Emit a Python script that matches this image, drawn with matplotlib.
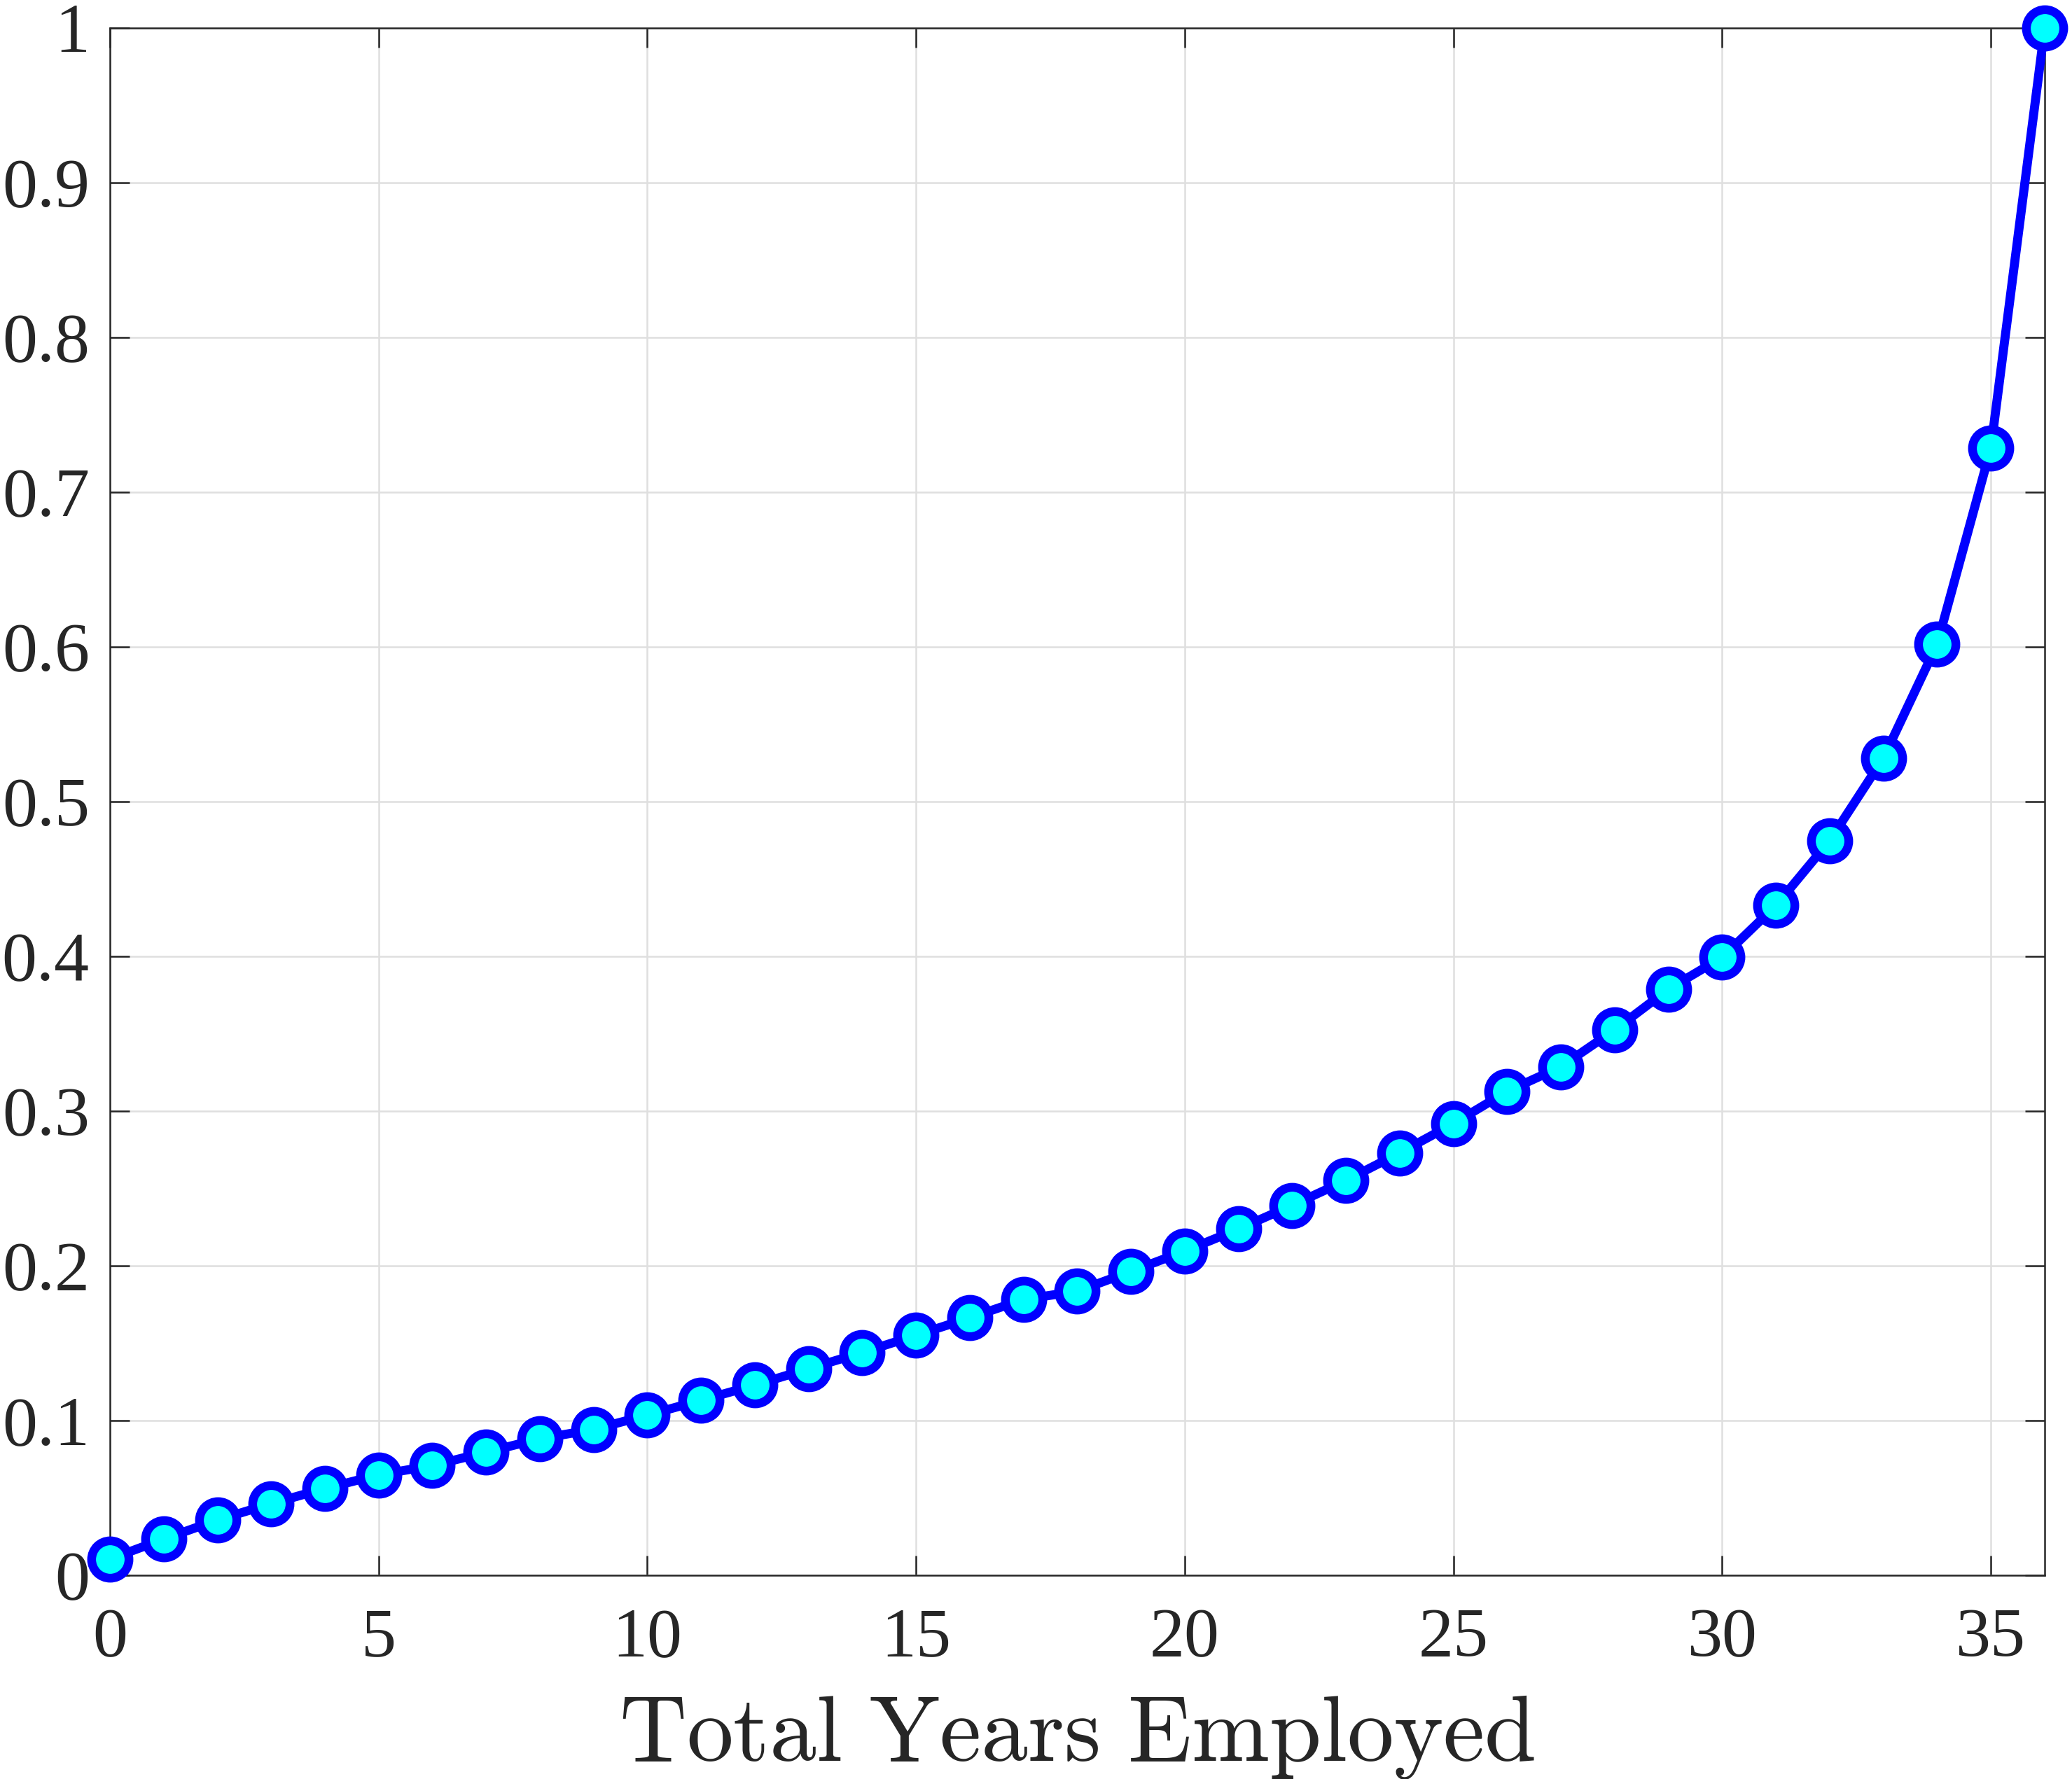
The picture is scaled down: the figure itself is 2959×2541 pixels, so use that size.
import matplotlib.pyplot as plt
import numpy as np

plt.rcParams['font.family'] = ['Liberation Serif', 'DejaVu Serif']
plt.rcParams['mathtext.fontset'] = 'cm'

# data
years = np.arange(0, 37)
values = [0.0105, 0.0234, 0.0357, 0.0463, 0.0561, 0.0649, 0.0709, 0.0796,
          0.0882, 0.0943, 0.1035, 0.1131, 0.1229, 0.1335, 0.1440, 0.1551,
          0.1664, 0.1783, 0.1836, 0.1964, 0.2095, 0.2238, 0.2391, 0.2552,
          0.2730, 0.2919, 0.3128, 0.3287, 0.3525, 0.3788, 0.3994, 0.4329,
          0.4748, 0.5282, 0.6018, 0.7287, 1.0]
xticks = [0, 5, 10, 15, 20, 25, 30, 35]
yticks = [0, 0.1, 0.2, 0.3, 0.4, 0.5, 0.6, 0.7, 0.8, 0.9, 1]
ytick_labels = ['0', '0.1', '0.2', '0.3', '0.4', '0.5', '0.6', '0.7', '0.8', '0.9', '1']

dark = '#262626'

fig = plt.figure(figsize=(2959 / 300, 2541 / 300), dpi=300)
ax = fig.add_axes([157 / 2959, 1 - 2250 / 2541, (2920 - 157) / 2959, (2250 - 40) / 2541])

ax.plot(years, values, '-o', color='#0000ff', lw=3.1, ms=12.8, mew=3.0,
        mfc='#00ffff', mec='#0000ff', clip_on=False, zorder=3)

ax.set_xlim(0, 36)
ax.set_ylim(0, 1)
ax.set_xticks(xticks)
ax.set_yticks(yticks)
ax.set_yticklabels(ytick_labels)
ax.grid(True, color='#dfdfdf', lw=0.6)
ax.set_axisbelow(True)

for s in ax.spines.values():
    s.set_color(dark)
    s.set_linewidth(0.6)
ax.tick_params(direction='in', top=True, right=True, length=6.8, width=0.6,
               color=dark, labelcolor=dark, labelsize=24)
ax.tick_params(axis='x', pad=11)
ax.tick_params(axis='y', pad=7)

# label is LaTeX-rendered in the original, so use Computer Modern mathtext
ax.set_xlabel(r'$\mathrm{Total\ Years\ Employed}$', fontsize=32, color=dark, labelpad=8)

fig.savefig('out.png', dpi=300)
